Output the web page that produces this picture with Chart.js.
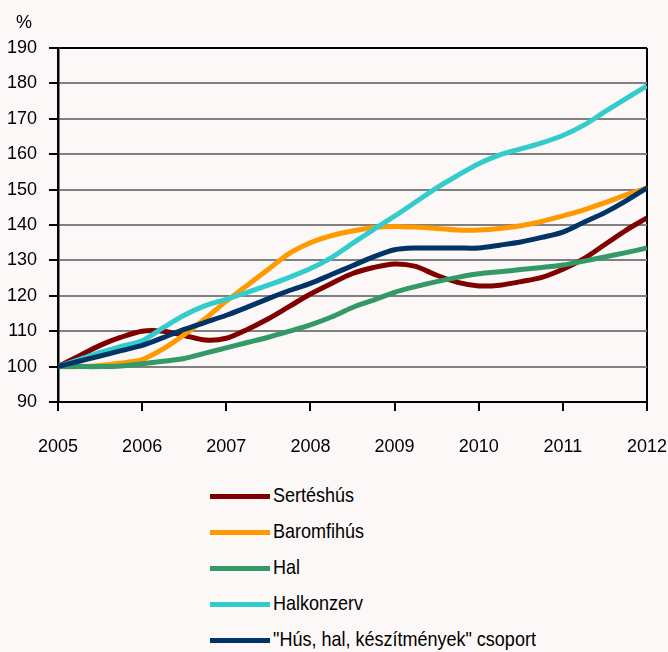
<!DOCTYPE html>
<html>
<head>
<meta charset="utf-8">
<script src="https://cdn.jsdelivr.net/npm/chart.js@4/dist/chart.umd.min.js"></script>
<style>
  html, body { margin: 0; padding: 0; background: #fbf8f7; }
  #wrap { position: relative; width: 668px; height: 652px; }
  #box { position: absolute; left: 0; top: 0; width: 668px; height: 470px; }
  #legend { position: absolute; left: 210px; top: 480px; font-family: 'Liberation Sans', Arial, sans-serif; font-size: 18px; color: #000; }
  .item { position: relative; height: 36px; }
  .item span.ln { position: absolute; left: 0; top: 14px; width: 60px; height: 5px; }
  .item span.tx { position: absolute; left: 63px; top: 5px; white-space: nowrap; transform: scaleY(1.12); transform-origin: left center; }
</style>
</head>
<body>
<div id="wrap">
  <div id="box"><canvas id="c"></canvas></div>
  <div id="legend"></div>
</div>
<script>
// quarterly observations, 2005 = 100
const quarters = [2005, 2005.25, 2005.5, 2005.75, 2006, 2006.25, 2006.5, 2006.75,
  2007, 2007.25, 2007.5, 2007.75, 2008, 2008.25, 2008.5, 2008.75,
  2009, 2009.25, 2009.5, 2009.75, 2010, 2010.25, 2010.5, 2010.75,
  2011, 2011.25, 2011.5, 2011.75, 2012];

const sertes = [100, 103, 106, 108.3, 110, 110, 108.8, 107.5, 108, 110.5, 113.5, 117, 120.5, 123.5,
  126.3, 128, 129, 128.3, 125.8, 123.8, 122.8, 123, 124, 125.2, 127.5, 130.5, 134.5, 138.5, 142];
const baromfi = [100, 100, 100.3, 101, 102, 105, 109, 113.5, 118.5, 123, 127.5, 132, 135, 137,
  138.3, 139.3, 139.6, 139.4, 139, 138.6, 138.6, 139, 139.8, 141, 142.6, 144.3, 146.3, 148.5, 150.5];
const hal = [100, 100, 100, 100.2, 100.8, 101.5, 102.3, 103.8, 105.3, 106.8, 108.3, 110, 111.8, 114,
  116.7, 118.8, 121, 122.6, 124, 125.2, 126.2, 126.8, 127.4, 128, 128.7, 129.8, 131, 132.2, 133.5];
const halkonzerv = [100, 102, 104, 105.7, 107.3, 111, 114.5, 117.2, 119, 121, 123, 125.2, 127.7, 130.8,
  134.8, 138.7, 142.5, 146.5, 150.5, 154, 157.3, 159.8, 161.5, 163.2, 165.3, 168.2, 172, 175.7, 179.3];
const csoport = [100, 101.5, 103, 104.5, 106, 108.2, 110.5, 112.5, 114.5, 116.8, 119.2, 121.5, 123.5, 126,
  128.5, 131, 133, 133.5, 133.5, 133.5, 133.5, 134.3, 135.2, 136.5, 138, 140.8, 143.5, 146.8, 150.5];

const seriesNames = ['Sertéshús', 'Baromfihús', 'Hal', 'Halkonzerv', '"Hús, hal, készítmények" csoport'];
const seriesColors = ['#800000', '#ff9900', '#339966', '#33cccc', '#003366'];
const seriesValues = [sertes, baromfi, hal, halkonzerv, csoport];

const yearTicks = ['2005', '2006', '2007', '2008', '2009', '2010', '2011', '2012'];

Chart.defaults.font.family = "'Liberation Sans', Arial, sans-serif";
Chart.defaults.font.size = 18;
Chart.defaults.color = '#000';

// "%" above the value axis
const unitLabel = {
  id: 'unitLabel',
  afterDraw(chart) {
    const ctx = chart.ctx;
    const y = chart.scales.y;
    ctx.save();
    ctx.font = "18px 'Liberation Sans', Arial, sans-serif";
    ctx.fillStyle = '#000';
    ctx.textAlign = 'left';
    ctx.textBaseline = 'middle';
    ctx.fillText('%', 16, y.top - 25);
    ctx.restore();
  }
};

new Chart(document.getElementById('c'), {
  type: 'line',
  data: {
    datasets: seriesValues.map((vals, i) => ({
      label: seriesNames[i],
      data: vals.map((v, j) => ({ x: quarters[j], y: v })),
      borderColor: seriesColors[i],
      backgroundColor: seriesColors[i],
      borderWidth: 5,
      pointRadius: 0,
      tension: 0.3,
      order: seriesValues.length - i
    }))
  },
  options: {
    responsive: true,
    maintainAspectRatio: false,
    animation: false,
    layout: { padding: { left: 0, top: 48, right: 0, bottom: 8 } },
    plugins: { legend: { display: false }, tooltip: { enabled: false } },
    scales: {
      x: {
        type: 'linear',
        min: 2005,
        max: 2012,
        afterFit(s) { s.height = 60; s.paddingRight = 21; },
        ticks: {
          stepSize: 1,
          padding: 25,
          maxRotation: 0,
          callback: (v) => yearTicks[v - 2005]
        },
        grid: {
          color: (c) => c.index === yearTicks.length - 1 ? '#000' : 'rgba(0,0,0,0)',
          tickColor: '#000',
          tickLength: 9,
          lineWidth: 2
        },
        border: { color: '#000', width: 2 }
      },
      y: {
        min: 90,
        max: 190,
        afterFit(s) { s.width = 58; },
        ticks: { stepSize: 10, padding: 12 },
        grid: {
          color: (c) => c.tick.value === 190 ? '#000' : '#808080',
          tickColor: '#000',
          tickLength: 9,
          lineWidth: 2
        },
        border: { color: '#000', width: 2.5 }
      }
    }
  },
  plugins: [unitLabel]
});

// legend below the chart, one entry per row
const legend = document.getElementById('legend');
seriesNames.forEach((name, i) => {
  const row = document.createElement('div');
  row.className = 'item';
  const ln = document.createElement('span');
  ln.className = 'ln';
  ln.style.background = seriesColors[i];
  const tx = document.createElement('span');
  tx.className = 'tx';
  tx.textContent = name;
  row.appendChild(ln);
  row.appendChild(tx);
  legend.appendChild(row);
});
</script>
</body>
</html>
